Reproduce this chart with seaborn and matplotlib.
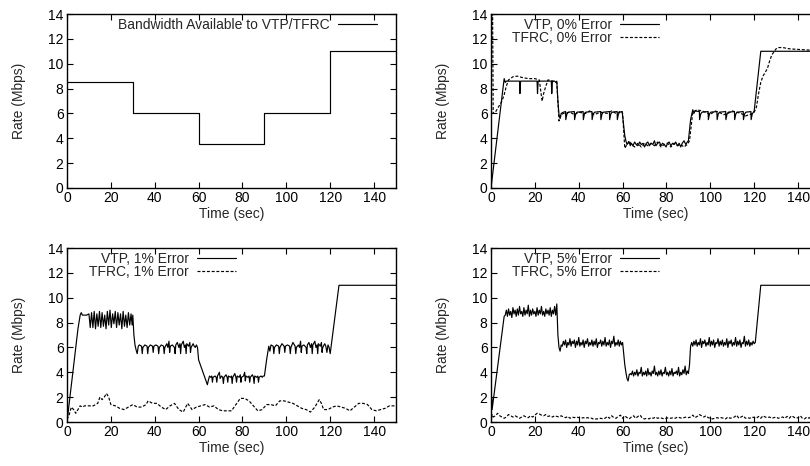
import numpy as np
import pandas as pd
import matplotlib
matplotlib.use("Agg")
import matplotlib.pyplot as plt
import seaborn as sns

# bandwidth made available by the bottleneck (time sec, rate Mbps)
bandwidth = [(0, 8.5), (30, 8.5), (30, 6), (60, 6), (60, 3.5), (90, 3.5),
             (90, 6), (120, 6), (120, 11), (150, 11)]

# 0% error
vtp_0 = [(0, 0), (6, 8.8), (6.5, 8.5), (7, 8.6), (13, 8.6), (13.2, 7.6), (13.5, 8.6),
         (21, 8.6), (21.2, 7.6), (21.5, 8.6), (27.5, 8.6), (27.7, 7.6), (28, 8.6),
         (29, 8.6), (29.5, 8.5), (30, 8.6), (30.5, 7.0), (31, 5.9), (31.5, 5.6), (32, 6.0),
         (33, 6.1), (34, 6.15), (34.1, 5.5), (34.6, 5.95), (35.2, 6.1), (38, 6.15),
         (38.1, 5.5), (38.6, 5.95), (39.2, 6.1), (42, 6.15), (42.1, 5.5), (42.6, 5.95),
         (43.2, 6.1), (46, 6.15), (46.1, 5.5), (46.6, 5.95), (47.2, 6.1), (50, 6.15),
         (50.1, 5.5), (50.6, 5.95), (51.2, 6.1), (54, 6.15), (54.1, 5.5), (54.6, 5.95),
         (55.2, 6.1), (57.5, 6.15), (57.6, 5.5), (58.1, 5.95), (58.7, 6.1), (59.8, 6.15),
         (60.5, 5.0), (61, 4.2), (61.5, 3.8), (62, 3.5), (63, 3.7), (63.5, 3.4),
         (64, 3.6), (64.7, 3.4), (65.5, 3.7), (66.2, 3.5), (67, 3.4), (67.8, 3.7),
         (68.5, 3.5), (69.3, 3.6), (70, 3.3), (70.8, 3.6), (71.5, 3.7), (72.2, 3.4),
         (73, 3.6), (73.8, 3.5), (74.5, 3.8), (75.2, 3.4), (76, 3.6), (76.8, 3.7),
         (77.5, 3.4), (78.2, 3.6), (79, 3.5), (79.8, 3.3), (80.5, 3.6), (81.2, 3.7),
         (82, 3.4), (82.8, 3.6), (83.5, 3.5), (84.2, 3.7), (85, 3.4), (85.8, 3.6),
         (86.5, 3.3), (87.2, 3.6), (88, 3.8), (88.8, 3.5), (89.5, 3.7), (90, 3.8),
         (91, 5.5), (92, 6.3), (92.5, 6.0), (93, 6.2), (95, 6.15), (95.1, 5.5),
         (95.6, 5.95), (96.2, 6.1), (99, 6.15), (99.1, 5.5), (99.6, 5.95), (100.2, 6.1),
         (103, 6.15), (103.1, 5.5), (103.6, 5.95), (104.2, 6.1), (107, 6.15), (107.1, 5.5),
         (107.6, 5.95), (108.2, 6.1), (111, 6.15), (111.1, 5.5), (111.6, 5.95), (112.2, 6.1),
         (115, 6.15), (115.1, 5.5), (115.6, 5.95), (116.2, 6.1), (118.5, 6.15),
         (118.6, 5.5), (119.1, 5.95), (120, 6.2), (123, 11.0), (150, 11.0)]

tfrc_0 = [(0, 0), (0.3, 15), (0.7, 15), (1.0, 6.0), (2, 6.1), (3, 6.4), (5, 7.0),
          (6, 7.5), (7, 8.2), (8, 8.7), (10, 8.95), (12, 9.0), (14, 8.9), (17, 8.8),
          (20, 8.8), (22, 8.7), (23.3, 7.0), (24, 7.6), (25, 8.2), (26, 8.7), (28, 8.6),
          (30, 8.5), (31, 5.4), (32, 5.9), (33, 6.0), (36, 6.1), (38, 5.9), (40, 6.1),
          (43, 6.0), (45, 6.2), (47, 5.9), (50, 6.1), (53, 6.0), (55, 6.2), (57, 6.0),
          (59.5, 6.2), (60, 6.0), (61, 3.2), (62, 3.5), (63, 3.8), (64, 3.5), (65.5, 3.3),
          (67, 3.6), (68.5, 3.3), (70, 3.6), (71.5, 3.4), (73, 3.6), (74.5, 3.4), (76, 3.7),
          (77.5, 3.3), (79, 3.5), (80.5, 3.6), (82, 3.3), (83.5, 3.6), (85, 3.4),
          (86.5, 3.5), (88, 3.3), (89.5, 3.5), (90.5, 3.8), (92, 6.1), (94, 6.3), (96, 6.2),
          (98, 6.1), (100, 5.9), (102, 6.2), (104, 6.1), (106, 5.9), (108, 6.0), (110, 6.2),
          (112, 6.1), (114, 6.0), (116, 5.8), (118, 5.9), (120, 6.1), (121, 6.5),
          (122, 7.6), (123, 8.5), (124, 9.0), (126, 9.6), (127, 10.2), (128, 10.7),
          (130, 11.2), (131, 11.3), (133, 11.3), (136, 11.2), (140, 11.15), (145, 11.1),
          (150, 11.1)]

# 1% error
vtp_1 = [(0, 0), (1, 1.5), (3, 4.5), (5, 7.5), (6, 8.6), (6.5, 8.8), (7, 8.6), (9, 8.6),
         (10, 8.7), (10.6, 7.6), (11.2, 8.8), (11.8, 7.6), (12.4, 8.9), (13, 7.5),
         (13.6, 8.7), (14.2, 7.7), (14.8, 8.9), (15.4, 7.6), (16, 8.8), (16.6, 7.7),
         (17.2, 8.6), (17.8, 7.5), (18.4, 8.9), (19, 7.8), (19.6, 9.0), (20.2, 7.6),
         (20.8, 8.7), (21.4, 7.9), (22, 8.9), (22.6, 7.6), (23.2, 8.8), (23.8, 7.8),
         (24.4, 8.7), (25, 7.5), (25.6, 8.9), (26.2, 7.7), (26.8, 8.6), (27.4, 7.6),
         (28, 8.8), (28.6, 7.8), (29.2, 8.7), (29.7, 7.8), (30, 8.6), (30.5, 7.0),
         (31, 6.2), (31.5, 5.8), (32, 5.5), (32.5, 6.1), (33, 6.2), (34, 6.1), (34.3, 5.5),
         (34.6, 6.0), (35.5, 6.2), (36.5, 6.1), (36.8, 5.5), (37.1, 6.0), (38, 6.2),
         (39, 6.1), (39.3, 5.6), (39.6, 6.1), (40.5, 6.2), (41.5, 6.1), (41.8, 5.5),
         (42.1, 6.0), (43, 6.2), (44, 6.1), (44.3, 5.5), (44.6, 6.0), (45.5, 6.3), (46, 6.0),
         (46.5, 6.5), (46.8, 5.6), (47.1, 6.1), (48, 6.2), (49, 6.0), (49.3, 5.5),
         (49.6, 6.2), (50.3, 6.4), (51, 6.0), (51.5, 6.3), (51.8, 5.5), (52.1, 6.2),
         (53, 6.5), (53.5, 6.0), (54, 6.2), (54.3, 5.5), (54.6, 6.3), (55.5, 6.1), (56, 6.4),
         (56.3, 5.6), (56.6, 6.0), (57.5, 6.3), (58, 6.1), (58.5, 6.0), (59, 6.2),
         (59.5, 6.0), (60, 5.0), (61, 4.5), (62, 4.0), (63, 3.5), (64, 3.0), (64.5, 3.4),
         (65, 3.7), (65.5, 3.6), (66, 3.7), (66.3, 3.2), (66.6, 3.6), (67.5, 3.7), (68, 3.6),
         (68.3, 3.2), (68.6, 3.7), (69.5, 4.0), (69.8, 3.5), (70.5, 3.7), (71, 3.6),
         (71.3, 3.1), (71.6, 3.6), (72.5, 3.8), (73, 3.6), (73.3, 3.2), (73.6, 3.7),
         (74.5, 3.6), (75, 3.7), (75.3, 3.1), (75.6, 3.6), (76.5, 3.9), (77, 3.6),
         (77.3, 3.2), (77.6, 3.7), (78.5, 3.6), (79, 3.8), (79.3, 3.2), (79.6, 3.6),
         (80.5, 3.7), (81, 4.0), (81.3, 3.3), (81.6, 3.7), (82.5, 3.6), (83, 3.7),
         (83.3, 3.2), (83.6, 3.6), (84.5, 3.8), (85, 3.6), (85.3, 3.1), (85.6, 3.7),
         (86.5, 3.6), (87, 3.7), (87.3, 3.2), (87.6, 3.6), (88.5, 3.7), (89, 3.6),
         (89.5, 3.7), (90, 3.7), (91, 5.0), (92, 6.1), (92.5, 5.7), (93, 6.2), (94, 6.1),
         (94.3, 5.5), (94.6, 6.0), (95.5, 6.2), (96.5, 6.1), (96.8, 5.5), (97.1, 6.0),
         (98, 6.3), (99, 6.1), (99.3, 5.6), (99.6, 6.1), (100.5, 6.2), (101.5, 6.1),
         (101.8, 5.5), (102.1, 6.0), (103, 6.4), (104, 6.1), (104.3, 5.5), (104.6, 6.0),
         (105.5, 6.2), (106, 6.0), (106.5, 6.5), (106.8, 5.6), (107.1, 6.1), (108, 6.2),
         (109, 6.0), (109.3, 5.5), (109.6, 6.2), (110.3, 6.4), (111, 6.0), (111.5, 6.3),
         (111.8, 5.5), (112.1, 6.2), (113, 6.5), (113.5, 6.0), (114, 6.2), (114.3, 5.5),
         (114.6, 6.3), (115.5, 6.1), (116, 6.4), (116.3, 5.6), (116.6, 6.0), (117.5, 6.3),
         (118, 6.1), (118.5, 5.6), (119, 6.2), (119.5, 6.0), (120, 5.5), (124, 11.0),
         (150, 11.0)]

tfrc_1 = [(0, 0.2), (1, 0.6), (2, 1.2), (3, 1.0), (4, 0.7), (5, 1.0), (6, 1.3), (7, 1.2),
          (8, 1.3), (10, 1.3), (12, 1.3), (14, 1.5), (15, 2.0), (16, 1.8), (17, 2.0),
          (18, 2.3), (19, 2.0), (20, 1.4), (22, 1.3), (24, 1.1), (26, 1.0), (28, 1.2),
          (30, 1.4), (32, 1.2), (34, 1.2), (36, 1.4), (37, 1.7), (39, 1.5), (41, 1.5),
          (43, 1.2), (45, 1.0), (47, 1.3), (49, 1.5), (51, 1.0), (53, 0.8), (55, 1.5),
          (57, 1.0), (59, 1.2), (61, 1.3), (63, 1.4), (65, 1.2), (67, 1.3), (69, 1.0),
          (71, 0.9), (73, 0.9), (75, 0.9), (77, 1.4), (79, 1.9), (81, 1.9), (83, 1.7),
          (85, 1.3), (87, 0.9), (89, 1.0), (91, 1.4), (93, 1.4), (95, 1.3), (97, 1.7),
          (99, 1.7), (101, 1.6), (103, 1.5), (105, 1.3), (107, 1.1), (109, 1.0), (111, 0.8),
          (113, 1.2), (115, 1.8), (116, 1.5), (117, 1.0), (119, 1.0), (121, 1.2), (123, 1.3),
          (125, 1.2), (127, 1.1), (129, 0.9), (131, 1.2), (133, 1.5), (135, 1.5), (137, 1.4),
          (139, 1.0), (141, 0.9), (143, 1.0), (145, 1.1), (147, 1.3), (150, 1.3)]

# 5% error
vtp_5 = [(0, 0), (0.3, 2.0), (0.5, 1.0), (6, 8.5),
         (6.5, 8.6), (7, 9.0), (7.5, 8.5), (8, 9.1), (8.5, 8.6), (9, 8.9), (9.5, 8.4),
         (10, 9.2), (10.5, 8.7), (11, 9.0), (11.5, 8.5), (12, 9.1), (12.5, 8.6), (13, 9.3),
         (13.5, 8.7), (14, 8.9), (14.5, 8.5), (15, 9.2), (15.5, 8.6), (16, 9.0), (16.5, 8.7),
         (17, 9.4), (17.5, 8.5), (18, 9.0), (18.5, 8.6), (19, 9.1), (19.5, 8.7), (20, 8.9),
         (20.5, 8.5), (21, 9.2), (21.5, 8.6), (22, 9.0), (22.5, 8.7), (23, 9.3), (23.5, 8.6),
         (24, 8.9), (24.5, 8.5), (25, 9.1), (25.5, 8.7), (26, 9.0), (26.5, 8.6), (27, 9.2),
         (27.5, 8.5), (28, 9.0), (28.5, 8.7), (29, 9.3), (29.5, 8.6), (30, 9.5),
         (30.5, 7.0), (31, 6.0), (31.5, 5.7), (32, 6.2),
         (32.5, 6.1), (33, 6.5), (33.5, 6.2), (34, 6.6), (34.5, 6.0), (35, 6.4), (35.5, 6.2),
         (36, 6.7), (36.5, 6.1), (37, 6.5), (37.5, 6.3), (38, 6.6), (38.5, 6.0), (39, 6.5),
         (39.5, 6.2), (40, 6.8), (40.5, 6.1), (41, 6.4), (41.5, 6.2), (42, 6.6), (42.5, 6.0),
         (43, 6.5), (43.5, 6.3), (44, 6.7), (44.5, 6.1), (45, 6.4), (45.5, 6.2), (46, 6.6),
         (46.5, 6.1), (47, 6.5), (47.5, 6.2), (48, 6.7), (48.5, 6.0), (49, 6.4), (49.5, 6.3),
         (50, 6.6), (50.5, 6.1), (51, 6.5), (51.5, 6.2), (52, 6.8), (52.5, 6.1), (53, 6.4),
         (53.5, 6.2), (54, 6.6), (54.5, 6.0), (55, 6.5), (55.5, 6.3), (56, 6.9), (56.5, 6.1),
         (57, 6.4), (57.5, 6.2), (58, 6.6), (58.5, 6.1), (59, 6.5), (59.5, 6.2), (60, 6.4),
         (60.5, 5.5), (61, 4.6), (61.5, 4.0), (62, 3.5), (62.5, 3.3), (63, 3.8), (63.5, 3.9),
         (64, 3.8), (64.5, 4.1), (65, 3.7), (65.5, 4.0), (66, 3.8), (66.5, 4.2), (67, 3.7),
         (67.5, 4.0), (68, 3.9), (68.5, 4.4), (69, 3.7), (69.5, 4.0), (70, 3.8), (70.5, 4.1),
         (71, 3.7), (71.5, 4.3), (72, 3.8), (72.5, 4.0), (73, 3.7), (73.5, 4.1), (74, 3.9),
         (74.5, 4.5), (75, 3.8), (75.5, 4.0), (76, 3.7), (76.5, 4.1), (77, 3.8), (77.5, 4.2),
         (78, 3.7), (78.5, 4.0), (79, 3.9), (79.5, 4.4), (80, 3.8), (80.5, 4.0), (81, 3.7),
         (81.5, 4.1), (82, 3.8), (82.5, 4.3), (83, 3.7), (83.5, 4.0), (84, 3.9), (84.5, 4.1),
         (85, 3.8), (85.5, 4.4), (86, 3.7), (86.5, 4.0), (87, 3.8), (87.5, 4.2), (88, 3.9),
         (88.5, 4.5), (89, 3.8), (89.5, 4.1), (90, 3.9),
         (90.5, 4.6), (91, 6.1), (91.5, 6.4),
         (92, 6.1), (92.5, 6.5), (93, 6.2), (93.5, 6.6), (94, 6.1), (94.5, 6.4), (95, 6.2),
         (95.5, 6.7), (96, 6.0), (96.5, 6.5), (97, 6.3), (97.5, 6.6), (98, 6.1), (98.5, 6.4),
         (99, 6.2), (99.5, 6.8), (100, 6.1), (100.5, 6.5), (101, 6.2), (101.5, 6.6),
         (102, 6.0), (102.5, 6.4), (103, 6.3), (103.5, 6.7), (104, 6.1), (104.5, 6.5),
         (105, 6.2), (105.5, 6.6), (106, 6.1), (106.5, 6.4), (107, 6.2), (107.5, 6.7),
         (108, 6.0), (108.5, 6.5), (109, 6.3), (109.5, 6.6), (110, 6.1), (110.5, 6.4),
         (111, 6.2), (111.5, 6.8), (112, 6.1), (112.5, 6.5), (113, 6.2), (113.5, 6.6),
         (114, 6.0), (114.5, 6.4), (115, 6.3), (115.5, 6.9), (116, 6.1), (116.5, 6.5),
         (117, 6.2), (117.5, 6.6), (118, 6.1), (118.5, 6.4), (119, 6.2), (119.5, 6.5),
         (120, 6.3), (120.5, 6.4), (123, 11.0), (150, 11.0)]

tfrc_5 = [(0, 0), (0.5, 0.6), (1, 0.4), (2, 0.5), (3, 0.7), (4, 0.5), (5, 0.4), (6, 0.3),
          (7, 0.4), (8, 0.6), (9, 0.5), (10, 0.4), (11, 0.5), (12, 0.4), (13, 0.3),
          (14, 0.4), (15, 0.5), (16, 0.4), (17, 0.35), (18, 0.5), (19, 0.4), (20, 0.55),
          (21, 0.7), (22, 0.65), (23, 0.55), (24, 0.5), (25, 0.6), (26, 0.45), (27, 0.5),
          (28, 0.4), (29, 0.5), (30, 0.45), (31, 0.4), (32, 0.5), (33, 0.4), (34, 0.35),
          (35, 0.45), (36, 0.3), (37, 0.4), (38, 0.35), (39, 0.4), (40, 0.35), (41, 0.3),
          (42, 0.35), (43, 0.3), (44, 0.35), (45, 0.3), (46, 0.3), (47, 0.2), (48, 0.25),
          (49, 0.25), (50, 0.3), (51, 0.25), (52, 0.3), (53, 0.45), (54, 0.3), (55, 0.5),
          (56, 0.35), (57, 0.3), (58, 0.45), (59, 0.55), (60, 0.3), (61, 0.5), (62, 0.35),
          (63, 0.25), (64, 0.4), (65, 0.5), (66, 0.3), (67, 0.45), (68, 0.55), (69, 0.3),
          (70, 0.25), (71, 0.3), (72, 0.25), (73, 0.35), (74, 0.3), (75, 0.4), (76, 0.3),
          (77, 0.35), (78, 0.3), (79, 0.25), (80, 0.3), (81, 0.35), (82, 0.3), (83, 0.35),
          (84, 0.3), (85, 0.4), (86, 0.35), (87, 0.3), (88, 0.35), (89, 0.4), (90, 0.35),
          (91, 0.4), (92, 0.55), (93, 0.35), (94, 0.45), (95, 0.6), (96, 0.5), (97, 0.4),
          (98, 0.5), (99, 0.35), (100, 0.3), (101, 0.25), (102, 0.3), (103, 0.35), (104, 0.3),
          (105, 0.35), (106, 0.3), (107, 0.25), (108, 0.4), (109, 0.3), (110, 0.35),
          (111, 0.4), (112, 0.55), (113, 0.3), (114, 0.4), (115, 0.5), (116, 0.3),
          (117, 0.35), (118, 0.3), (119, 0.4), (120, 0.35), (121, 0.3), (122, 0.45),
          (123, 0.3), (124, 0.5), (125, 0.4), (126, 0.35), (127, 0.4), (128, 0.3),
          (129, 0.35), (130, 0.4), (131, 0.3), (132, 0.35), (133, 0.4), (134, 0.3),
          (135, 0.45), (136, 0.3), (137, 0.5), (138, 0.4), (139, 0.3), (140, 0.35),
          (141, 0.5), (142, 0.3), (143, 0.25), (144, 0.4), (145, 0.3), (146, 0.45),
          (147, 0.3), (148, 0.35), (150, 0.4)]

x_ticks = [0, 20, 40, 60, 80, 100, 120, 140]
y_ticks = [0, 2, 4, 6, 8, 10, 12, 14]

sns.set_style("ticks")
plt.rcParams['font.family'] = ['Liberation Sans', 'DejaVu Sans']
plt.rcParams['font.size'] = 10

W, H = 810, 466
fig = plt.figure(figsize=(W / 100, H / 100), dpi=100)

SOLID = '-'
DASHED = (0, (2.5, 1.5))
FS = 10


def make_axes(left_px, top_px):
    # axes box in pixels: 329 wide, 174 high (right panels run past the edge)
    return fig.add_axes([left_px / W, 1 - (top_px + 174) / H, 329 / W, 174 / H])


def draw_panel(ax, series, legend_right_px, legend_top_px):
    for label, pts, style in series:
        df = pd.DataFrame(pts, columns=['Time', 'Rate'])
        sns.lineplot(data=df, x='Time', y='Rate', sort=False, estimator=None,
                     color='black', linewidth=0.85, linestyle=style, label=label, ax=ax)
    ax.set_xlim(0, 150)
    ax.set_ylim(0, 14)
    ax.set_xticks(x_ticks)
    ax.set_yticks(y_ticks)
    ax.tick_params(direction='in', top=True, right=True, length=4, width=0.8,
                   pad=2.5, labelsize=FS, colors='black')
    for sp in ax.spines.values():
        sp.set_linewidth(1.0)
        sp.set_color('black')
    ax.set_xlabel('Time (sec)', fontsize=FS)
    ax.set_ylabel('Rate (Mbps)', fontsize=FS)
    ax.xaxis.set_label_coords(0.5, -0.108)
    ax.yaxis.set_label_coords(-0.125, 0.5)
    ax.legend(loc='upper right', bbox_to_anchor=(legend_right_px / W, 1 - legend_top_px / H),
              bbox_transform=fig.transFigure, frameon=False, markerfirst=False,
              handlelength=2.8, handletextpad=0.6, labelspacing=-0.05,
              borderpad=0, borderaxespad=0, fontsize=FS)


ax1 = make_axes(67, 14)
draw_panel(ax1, [('Bandwidth Available to VTP/TFRC', bandwidth, SOLID)], 377, 18)

ax2 = make_axes(491, 14)
draw_panel(ax2, [('VTP, 0% Error', vtp_0, SOLID), ('TFRC, 0% Error', tfrc_0, DASHED)], 659, 18)

ax3 = make_axes(67, 248)
draw_panel(ax3, [('VTP, 1% Error', vtp_1, SOLID), ('TFRC, 1% Error', tfrc_1, DASHED)], 236, 252)

ax4 = make_axes(491, 248)
draw_panel(ax4, [('VTP, 5% Error', vtp_5, SOLID), ('TFRC, 5% Error', tfrc_5, DASHED)], 659, 252)

fig.savefig('out.png', dpi=100)
